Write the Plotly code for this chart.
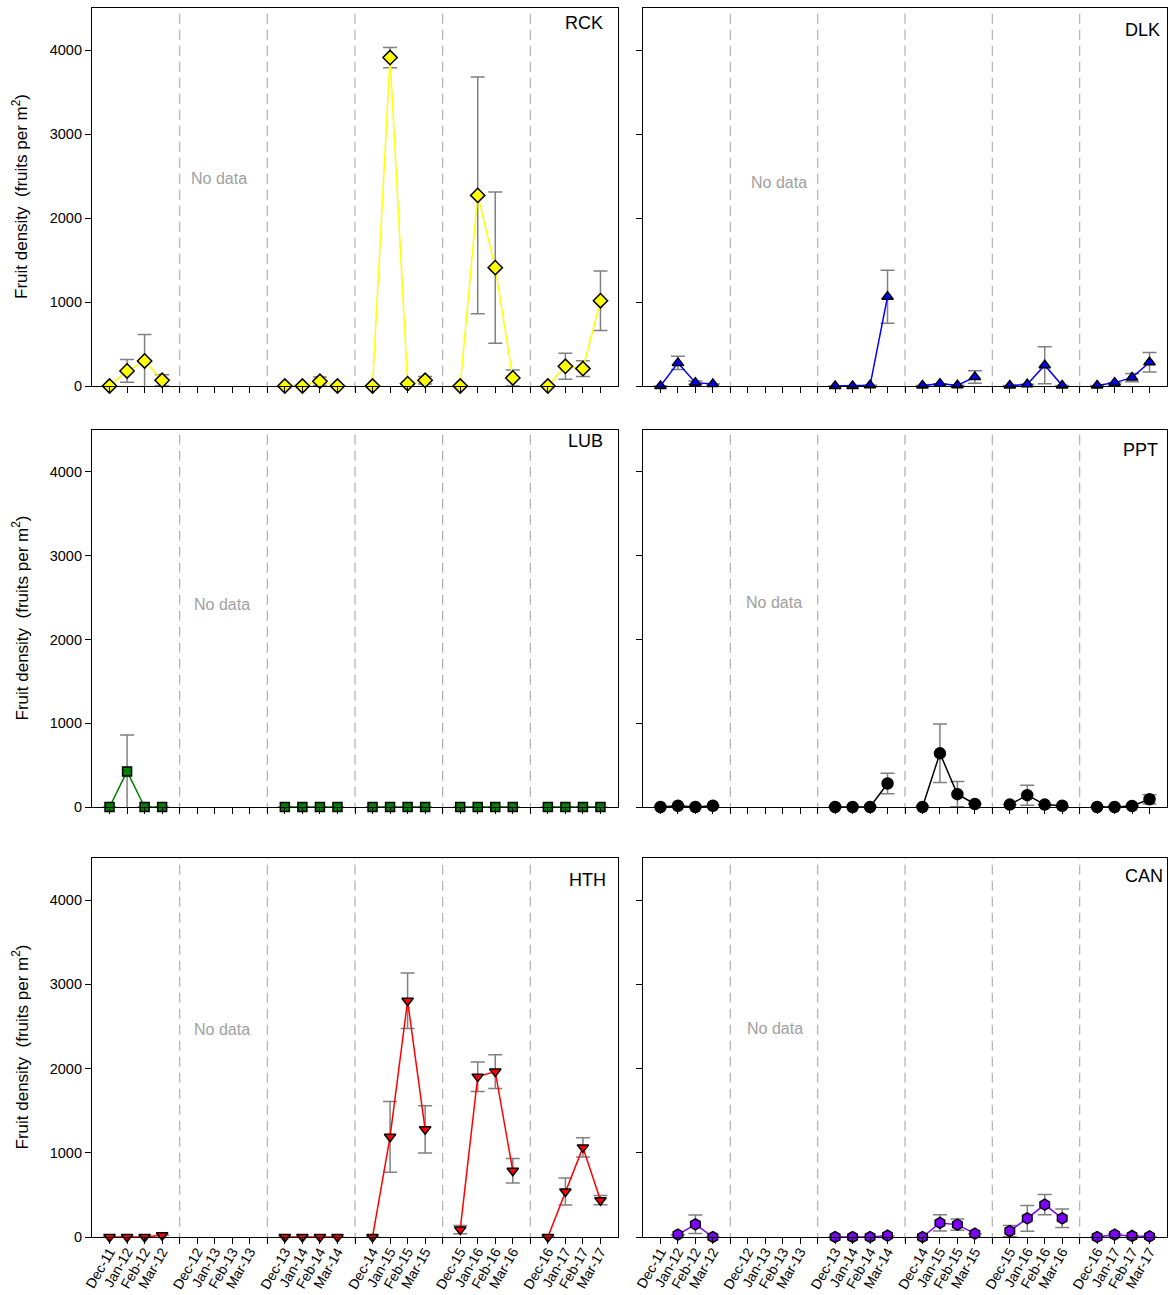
import plotly.graph_objects as go

months = ["Dec-11", "Jan-12", "Feb-12", "Mar-12",
          "Dec-12", "Jan-13", "Feb-13", "Mar-13",
          "Dec-13", "Jan-14", "Feb-14", "Mar-14",
          "Dec-14", "Jan-15", "Feb-15", "Mar-15",
          "Dec-15", "Jan-16", "Feb-16", "Mar-16",
          "Dec-16", "Jan-17", "Feb-17", "Mar-17"]

N = None
rck = [0, 179, 298, 68,   N, N, N, N,   0, 0, 56, 0,   0, 3910, 28, 68,   0, 2269, 1409, 96,   0, 235, 207, 1015]
rck_err = [N, 135, 315, 65,   N, N, N, N,   N, N, 50, N,   N, 120, N, 45,   N, 1409, 900, 95,   N, 155, 95, 355]

dlk = [0, 275, 40, 24,   N, N, N, N,   0, 0, 8, 1063,   5, 28, 8, 107,   5, 20, 247, 5,   5, 40, 100, 283]
dlk_err = [N, 80, 20, N,   N, N, N, N,   N, N, N, 315,   N, N, N, 75,   N, N, 220, N,   N, N, 50, 115]

lub = [0, 425, 0, 0,   N, N, N, N,   0, 0, 0, 0,   0, 0, 0, 0,   0, 0, 0, 0,   0, 0, 0, 0]
lub_err = [N, 435, N, N,   N, N, N, N,   N, N, N, N,   N, N, N, N,   N, N, N, N,   N, N, N, N]

ppt = [0, 15, 0, 15,   N, N, N, N,   0, 0, 0, 281,   0, 641, 153, 36,   29, 141, 29, 15,   0, 0, 12, 92]
ppt_err = [N, N, N, N,   N, N, N, N,   N, N, N, 122,   N, 350, 150, N,   N, 120, N, N,   N, N, N, 55]

hth = [0, 0, 0, 20,   N, N, N, N,   0, 0, 0, 0,   0, 1190, 2805, 1278,   88, 1904, 1964, 786,   0, 540, 1064, 437]
hth_err = [N, N, N, N,   N, N, N, N,   N, N, N, N,   N, 420, 330, 280,   48, 175, 200, 145,   N, 160, 115, 55]

can = [N, 28, 151, 0,   N, N, N, N,   0, 0, 0, 16,   0, 167, 147, 40,   71, 222, 385, 222,   0, 28, 12, 8]
can_err = [N, N, 110, N,   N, N, N, N,   N, N, N, N,   N, 97, 67, N,   67, 153, 120, 109,   N, 12, N, N]

sites = ["RCK", "DLK", "LUB", "PPT", "HTH", "CAN"]
values = [rck, dlk, lub, ppt, hth, can]
errors = [rck_err, dlk_err, lub_err, ppt_err, hth_err, can_err]
y_ticks = [0, 1000, 2000, 3000, 4000]

styles = {
    "RCK": dict(symbol="diamond", fill="#ffff00", line="#ffff00", size=11),
    "DLK": dict(symbol="triangle-up", fill="#0000ff", line="#0000ff", size=10),
    "LUB": dict(symbol="square", fill="#008000", line="#008000", size=9),
    "PPT": dict(symbol="circle", fill="#000000", line="#000000", size=11),
    "HTH": dict(symbol="triangle-down", fill="#ff0000", line="#ff0000", size=10),
    "CAN": dict(symbol="hexagon", fill="#8000ff", line="#8000ff", size=11),
}

W, H = 1169, 1295
col_px = [(92, 618), (643, 1167)]
row_px = [(8, 386), (430, 807), (858, 1237)]

# label placement (offsets inside panels, in px): right inset, top-center offset
label_pos = {"RCK": (13, 15), "DLK": (5, 22), "LUB": (13, 11),
             "PPT": (7, 20), "HTH": (10, 22), "CAN": (2, 18)}
nodata_pos = {"RCK": (6.24, 2475), "DLK": (6.78, 2428), "LUB": (6.42, 2412),
              "PPT": (6.5, 2436), "HTH": (6.42, 2463), "CAN": (6.56, 2475)}

FONT = "Arial, Liberation Sans, sans-serif"
fig = go.Figure()

tickvals = list(range(29))
ticktext = []
for s in range(6):
    for m in range(4):
        ticktext.append(months[s * 4 + m])
    if s < 5:
        ticktext.append("")

for k, site in enumerate(sites):
    r, c = divmod(k, 2)
    idx = k + 1
    xa = "x" if idx == 1 else f"x{idx}"
    ya = "y" if idx == 1 else f"y{idx}"
    st = styles[site]
    xs, ys, es = [], [], []
    for s in range(6):
        for m in range(4):
            i = s * 4 + m
            if values[k][i] is None:
                continue
            xs.append(s * 5 + m)
            ys.append(values[k][i])
            es.append(errors[k][i])
        xs.append(None); ys.append(None); es.append(None)
    fig.add_trace(go.Scatter(
        x=xs, y=ys, mode="lines+markers", xaxis=xa, yaxis=ya,
        connectgaps=False, showlegend=False, cliponaxis=False,
        line=dict(color=st["line"], width=1.5),
        marker=dict(symbol=st["symbol"], size=st["size"], color=st["fill"],
                    line=dict(color="#000000", width=1.5)),
        error_y=dict(type="data", array=es, visible=True, color="#808080",
                     thickness=1.5, width=7),
    ))
    x0p, x1p = col_px[c]
    t, b = row_px[r]
    xd = [x0p / W, x1p / W]
    yd = [1 - b / H, 1 - t / H]
    fig.layout[("xaxis" if idx == 1 else f"xaxis{idx}")] = dict(
        domain=xd, range=[-1, 29], anchor=ya, tickmode="array", automargin=False,
        tickvals=tickvals, ticktext=ticktext, showticklabels=(r == 2),
        tickangle=-60, ticks="outside", ticklen=6, tickcolor="#000",
        ticklabelstandoff=-6,
        tickfont=dict(family=FONT, size=14, color="#000"),
        showline=True, linecolor="#000", linewidth=1.2, mirror=True,
        showgrid=False, zeroline=False, fixedrange=True)
    fig.layout[("yaxis" if idx == 1 else f"yaxis{idx}")] = dict(
        domain=yd, range=[0, 4500], anchor=xa, tickmode="array", automargin=False,
        tickvals=y_ticks, ticktext=[str(v) for v in y_ticks], showticklabels=(c == 0),
        ticks="outside", ticklen=6, tickcolor="#000",
        tickfont=dict(family=FONT, size=14.5, color="#000"),
        showline=True, linecolor="#000", linewidth=1.2, mirror=True,
        showgrid=False, zeroline=False, fixedrange=True)
    # season separators
    for s in range(5):
        fig.add_shape(type="line", xref=xa, yref=f"{ya} domain",
                      x0=s * 5 + 4, x1=s * 5 + 4, y0=-0.015, y1=1.0,
                      line=dict(color="#b0b0b0", width=1.2, dash="10px,6px"), layer="below")
    # site label
    ri, to = label_pos[site]
    pw = x1p - x0p
    ph = b - t
    fig.add_annotation(text=site, xref=f"{xa} domain", yref=f"{ya} domain",
                       x=1 - ri / pw, y=1 - to / ph, xanchor="right", yanchor="middle",
                       showarrow=False, font=dict(family=FONT, size=18, color="#000"))
    nx, ny = nodata_pos[site]
    fig.add_annotation(text="No data", xref=xa, yref=ya, x=nx, y=ny,
                       xanchor="center", yanchor="middle", showarrow=False,
                       font=dict(family=FONT, size=16, color="#a0a0a0"))
    if c == 0:
        fig.add_annotation(text="Fruit density  (fruits per m<sup>2</sup>)",
                           xref="paper", yref="paper", x=20 / W, y=1 - (t + b) / 2 / H,
                           textangle=-90, xanchor="center", yanchor="middle",
                           showarrow=False, font=dict(family=FONT, size=17, color="#000"))

fig.update_layout(width=W, height=H, margin=dict(l=0, r=0, t=0, b=0, autoexpand=False),
                  paper_bgcolor="white", plot_bgcolor="white",
                  font=dict(family=FONT))
fig.write_html("out.html")
